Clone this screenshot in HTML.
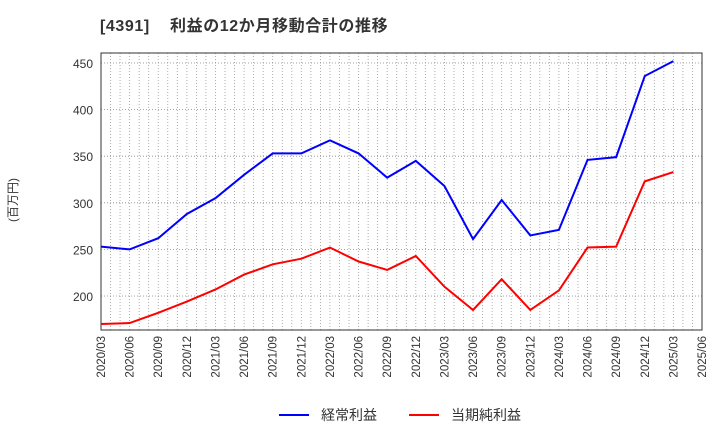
<!DOCTYPE html>
<html><head><meta charset="utf-8"><style>body{margin:0;background:#fff}svg{display:block;font-family:"Liberation Sans","Noto Sans CJK JP",sans-serif}</style></head>
<body>
<svg id="c" width="720" height="440">
<text x="100" y="31" font-size="16" font-weight="bold" fill="#333" letter-spacing="0.6">[4391]</text>
<text x="170" y="31" font-size="16" font-weight="bold" fill="#333" letter-spacing="0.6">利益の12か月移動合計の推移</text>
<text transform="translate(17,200) rotate(-90)" font-size="12" fill="#333" text-anchor="middle">(百万円)</text>
<g id="grid"></g><g id="axes"></g><g id="series"></g>
<g>
<line x1="279" y1="415" x2="309" y2="415" stroke="#0000ff" stroke-width="2"/>
<text x="321" y="420" font-size="14" fill="#333">経常利益</text>
<line x1="409" y1="415" x2="439" y2="415" stroke="#ff0000" stroke-width="2"/>
<text x="451" y="420" font-size="14" fill="#333">当期純利益</text>
</g>
</svg>
<script>
const categories=["2020/03","2020/06","2020/09","2020/12","2021/03","2021/06","2021/09","2021/12","2022/03","2022/06","2022/09","2022/12","2023/03","2023/06","2023/09","2023/12","2024/03","2024/06","2024/09","2024/12","2025/03","2025/06"];
const keijo=[253,250,262,288,305,330,353,353,367,353,327,345,318,261,303,265,271,346,349,436,452];
const junri=[170,171,182,194,207,223,234,240,252,237,228,243,210,185,218,185,206,252,253,323,333];
const yTicks=[200,250,300,350,400,450];
const L=101,R=702,T=53,B=330;
const x=i=>L+(R-L)*i/(categories.length-1);
const y=v=>63+(450-v)*(233/250);
const ns="http://www.w3.org/2000/svg";
function mk(t,a,p){const e=document.createElementNS(ns,t);for(const k in a)e.setAttribute(k,a[k]);p.appendChild(e);return e;}
const g=document.getElementById('grid'),ax=document.getElementById('axes'),s=document.getElementById('series');
for(let m=0;m<=(categories.length-1)*3;m++){const xx=L+(R-L)*m/((categories.length-1)*3);
const l=mk('line',{x1:xx,x2:xx,y1:T,y2:B,stroke:'#999','stroke-width':0.8,'stroke-dasharray':'1,2'},g);

}
yTicks.forEach(v=>{const l=mk('line',{x1:L,x2:R,y1:y(v),y2:y(v),stroke:'#888','stroke-width':0.8,'stroke-dasharray':'1,2'},g);


const t=mk('text',{x:L-8,y:y(v)+5,'font-size':12,fill:'#333','text-anchor':'end'},ax);t.textContent=v;

});
const fr=mk('rect',{x:L,y:T,width:R-L,height:B-T,fill:'none',stroke:'#333','stroke-width':1},ax);


categories.forEach((c,i)=>{const t=mk('text',{transform:`translate(${x(i)+4},${B+6}) rotate(-90)`,'font-size':11.5,fill:'#333','text-anchor':'end'},ax);t.textContent=c;

});
[[keijo,'#0000ff','keijo-line'],[junri,'#ff0000','junri-line']].forEach(([d,col,n])=>{
const p=mk('polyline',{points:d.map((v,i)=>x(i)+','+y(v)).join(' '),fill:'none',stroke:col,'stroke-width':2},s);

});
</script>
</body></html>
